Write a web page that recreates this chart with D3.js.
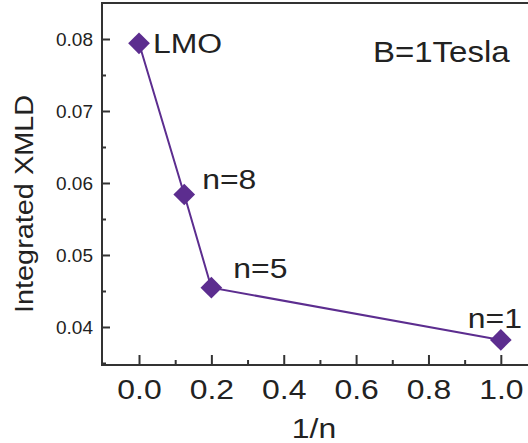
<!DOCTYPE html>
<html><head><meta charset="utf-8">
<script src="https://cdn.jsdelivr.net/npm/d3@7/dist/d3.min.js"></script>
<style>body{margin:0;background:#fff}svg{display:block}text{font-family:"Liberation Sans",Arial,sans-serif;fill:#222}</style>
</head><body>
<svg id="c" width="528" height="443"></svg>
<script>
const labels = ["LMO", "n=8", "n=5", "n=1"];
const invN = [0, 0.125, 0.2, 1.0];
const xmld = [0.0794, 0.0584, 0.04546, 0.0382];
const xTicks = [0, 0.2, 0.4, 0.6, 0.8, 1.0];
const xMinor = [0.1, 0.3, 0.5, 0.7, 0.9];
const yTicks = [0.04, 0.05, 0.06, 0.07, 0.08];
const yMinor = [0.035, 0.045, 0.055, 0.065, 0.075];

const svg = d3.select("#c");
const L = 102, R = 537, T = 3, B = 365;
const x = d3.scaleLinear().domain([-0.1023, 1.1]).range([L, R]);
const y = d3.scaleLinear().domain([0.03472, 0.085]).range([B, T]);
const ink = "#333";
const purple = "#5c2d8f";
const SX = 1.14;

// frame
svg.append("rect").attr("x", L).attr("y", T).attr("width", R - L).attr("height", B - T)
  .attr("fill", "none").attr("stroke", ink).attr("stroke-width", 2);

// x axis
const xa = svg.append("g").attr("transform", `translate(0,${B})`)
  .call(d3.axisBottom(x).tickValues(xTicks).tickSizeInner(-10).tickSizeOuter(0).tickPadding(13).tickFormat(d3.format(".1f")));
xa.select(".domain").remove();
xa.selectAll("line").attr("stroke", ink).attr("stroke-width", 2);
xa.selectAll("text").attr("font-size", 28).attr("fill", "#222").attr("font-family", "Liberation Sans, Arial, sans-serif")
  .attr("dy", "0.75em").attr("transform", `scale(${SX},1)`);
const xm = svg.append("g").attr("transform", `translate(0,${B})`)
  .call(d3.axisBottom(x).tickValues(xMinor).tickSizeInner(-5).tickSizeOuter(0).tickFormat(""));
xm.select(".domain").remove();
xm.selectAll("line").attr("stroke", ink).attr("stroke-width", 2);

// y axis
const ya = svg.append("g").attr("transform", `translate(${L},0)`)
  .call(d3.axisLeft(y).tickValues(yTicks).tickSizeInner(-8).tickSizeOuter(0).tickPadding(9).tickFormat(d3.format(".2f")));
ya.select(".domain").remove();
ya.selectAll("line").attr("stroke", ink).attr("stroke-width", 2);
ya.selectAll("text").attr("font-size", 19).attr("fill", "#222").attr("font-family", "Liberation Sans, Arial, sans-serif");
const ym = svg.append("g").attr("transform", `translate(${L},0)`)
  .call(d3.axisLeft(y).tickValues(yMinor).tickSizeInner(-4).tickSizeOuter(0).tickFormat(""));
ym.select(".domain").remove();
ym.selectAll("line").attr("stroke", ink).attr("stroke-width", 2);

// axis titles
svg.append("text").attr("transform", `translate(314,438) scale(${SX},1)`).attr("text-anchor", "middle").attr("font-size", 28).text("1/n");
svg.append("text").attr("transform", `translate(33,204) rotate(-90) scale(1.11,1)`).attr("text-anchor", "middle")
  .attr("font-size", 26).text("Integrated XMLD");

// data
const pts = invN.map((v, i) => ({x: v, y: xmld[i], label: labels[i]}));
svg.append("path").datum(pts)
  .attr("d", d3.line().x(d => x(d.x)).y(d => y(d.y)))
  .attr("fill", "none").attr("stroke", purple).attr("stroke-width", 2);
svg.selectAll(".pt").data(pts).enter().append("path")
  .attr("d", d3.symbol(d3.symbolDiamond2, 300)())
  .attr("transform", d => `translate(${x(d.x)},${y(d.y)})`)
  .attr("fill", purple);

// annotations (offsets relative to each point)
const offs = [[14, 10], [18, -6], [22, -10], [-33, -12]];
svg.selectAll(".lab").data(pts).enter().append("text")
  .attr("transform", (d, i) => `translate(${x(d.x) + offs[i][0]},${y(d.y) + offs[i][1]}) scale(${SX},1)`)
  .attr("font-size", 28).text(d => d.label);

svg.append("text").attr("transform", `translate(373,62) scale(1.1,1)`).attr("font-size", 30).text("B=1Tesla");
</script>
</body></html>
